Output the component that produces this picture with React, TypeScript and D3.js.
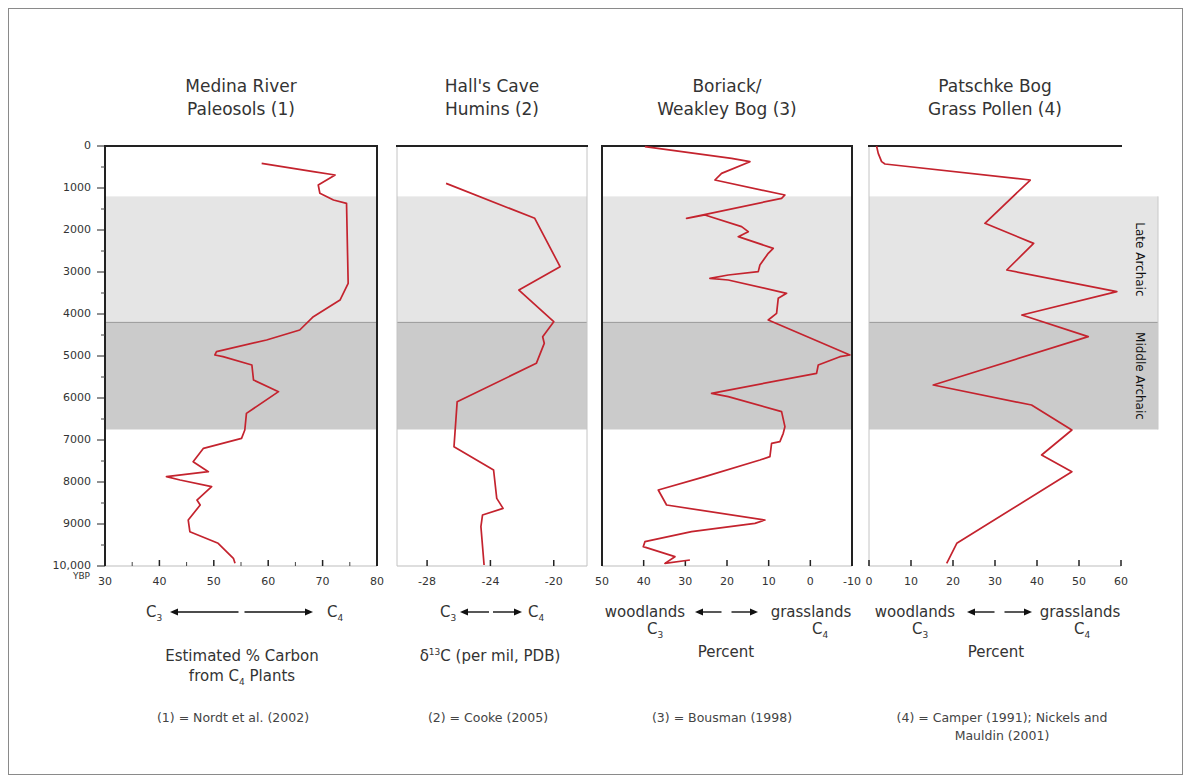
import React from 'react'
import * as d3 from 'd3'

// age axis (years BP)
const ageTicks = [0, 1000, 2000, 3000, 4000, 5000, 6000, 7000, 8000, 9000, 10000]
const ageLabels = ['0', '1000', '2000', '3000', '4000', '5000', '6000', '7000', '8000', '9000', '10,000']

// shaded periods
const periodNames = ['Late Archaic', 'Middle Archaic']
const periodStart = [1200, 4200]
const periodEnd = [4200, 6750]

// (1) Medina River paleosols, % C4
const medinaAge = [412, 612, 690, 929, 1127, 1286, 1365, 3270, 3667, 4064, 4381, 4619, 4897, 4976, 5016, 5214, 5571, 5849, 6365, 6762, 6960, 7198, 7516, 7754, 7873, 7952, 8111, 8429, 8548, 8905, 9183, 9460, 9817, 9936]
const medinaPct = [58.8, 68.3, 72.3, 69.2, 69.5, 72.0, 74.4, 74.7, 73.2, 68.3, 65.8, 59.7, 50.5, 50.2, 51.7, 57.0, 57.3, 61.9, 56.0, 55.7, 55.1, 48.1, 46.2, 49.0, 41.3, 43.8, 49.6, 46.9, 47.5, 45.3, 45.6, 50.8, 53.6, 53.9]

// (2) Hall's Cave humins, d13C
const hallsAge = [889, 1722, 2873, 3429, 4183, 4540, 4698, 5175, 6087, 7159, 7714, 8389, 8627, 8786, 9064, 9976]
const hallsD13C = [-26.8, -21.2, -19.6, -22.2, -20.0, -20.7, -20.6, -21.1, -26.1, -26.3, -23.8, -23.6, -23.2, -24.5, -24.6, -24.4]

// (3) Boriack / Weakley Bog, percent
const boriackAge = [16, 294, 373, 651, 810, 1167, 1246, 1722, 1643, 1921, 2040, 2159, 2437, 2556, 2833, 2992, 3071, 3151, 3190, 3508, 3627, 3984, 4143, 4976, 5016, 5214, 5413, 5889, 5968, 6325, 6683, 6841, 7040, 7080, 7397, 7476, 7873, 8191, 8548, 8905, 8984, 9183, 9421, 9540, 9778, 9937, 9857]
const boriackPct = [39.7, 18.9, 14.5, 21.3, 22.9, 6.1, 6.9, 29.7, 25.3, 16.5, 14.9, 17.3, 8.9, 10.1, 12.1, 12.5, 19.7, 24.1, 19.7, 5.7, 7.7, 8.1, 10.1, -9.5, -7.1, -1.9, -1.5, 23.7, 19.7, 6.9, 6.1, 6.5, 7.3, 9.3, 9.7, 12.1, 25.3, 36.5, 34.5, 10.9, 13.3, 28.5, 39.7, 40.1, 32.5, 34.9, 28.9]

// (4) Patschke Bog grass pollen, percent
const patschkeAge = [0, 175, 373, 428, 810, 1841, 2318, 2952, 3468, 4024, 4540, 5691, 6167, 6762, 7357, 7754, 9460, 9937]
const patschkePct = [1.8, 2.2, 3.0, 3.8, 38.4, 27.6, 39.2, 32.8, 59.0, 36.4, 52.2, 15.3, 38.7, 48.3, 41.1, 48.3, 20.9, 18.5]

const medinaTicks = [30, 40, 50, 60, 70, 80]
const hallsTicks = [-28, -24, -20]
const boriackTicks = [50, 40, 30, 20, 10, 0, -10]
const patschkeTicks = [0, 10, 20, 30, 40, 50, 60]

const FONT = 'DejaVu Sans, Verdana, sans-serif'
const INK = '#333'
const RED = '#c4232e'

const y = d3.scaleLinear().domain([0, 10000]).range([146, 566])

type Panel = {
  x0: number
  x1: number
  domain: [number, number]
  ticks: number[]
  minor: number[]
  title: string[]
  ages: number[]
  vals: number[]
  leftDark: boolean
  right: string | null
}

const panels: Panel[] = [
  { x0: 105, x1: 377, domain: [30, 80], ticks: medinaTicks, minor: [35, 45, 55, 65, 75], title: ['Medina River', 'Paleosols (1)'], ages: medinaAge, vals: medinaPct, leftDark: true, right: '#222' },
  { x0: 397, x1: 587, domain: [-29.9, -17.9], ticks: hallsTicks, minor: [], title: ["Hall's Cave", 'Humins (2)'], ages: hallsAge, vals: hallsD13C, leftDark: false, right: '#c4c4c4' },
  { x0: 602, x1: 852, domain: [50, -10], ticks: boriackTicks, minor: [], title: ['Boriack/', 'Weakley Bog (3)'], ages: boriackAge, vals: boriackPct, leftDark: true, right: '#222' },
  { x0: 869, x1: 1121, domain: [0, 60], ticks: patschkeTicks, minor: [], title: ['Patschke Bog', 'Grass Pollen (4)'], ages: patschkeAge, vals: patschkePct, leftDark: false, right: null },
]

const Sub = ({ t }: { t: string }) => (
  <tspan fontSize={9} dy={4}>{t}</tspan>
)

const Arrows = ({ cx, half, gap, yy }: { cx: number; half: number; gap: number; yy: number }) => (
  <g stroke="#111" strokeWidth={1.4} fill="#111">
    <line x1={cx - gap} x2={cx - half + 6} y1={yy} y2={yy} />
    <path d={`M${cx - half},${yy} l8,-3.5 l0,7 z`} stroke="none" />
    <line x1={cx + gap} x2={cx + half - 6} y1={yy} y2={yy} />
    <path d={`M${cx + half},${yy} l-8,-3.5 l0,7 z`} stroke="none" />
  </g>
)

export default function App() {
  const bandRight = 1158
  return (
    <svg width={1191} height={782} style={{ position: 'absolute', left: 0, top: 0, background: '#fff' }} fontFamily={FONT}>
      <rect x={8.5} y={8.5} width={1174} height={766} fill="#fff" stroke="#8a8a8a" strokeWidth={1} />

      {/* shaded periods */}
      {panels.map((p, i) => (
        <g key={'b' + i}>
          {periodStart.map((s, j) => (
            <rect key={j} x={p.x0} width={(i === 3 ? bandRight : p.x1) - p.x0} y={y(s)} height={y(periodEnd[j]) - y(s)} fill={j === 0 ? '#e5e5e5' : '#cbcbcb'} />
          ))}
          <line x1={p.x0} x2={i === 3 ? bandRight : p.x1} y1={y(periodStart[1])} y2={y(periodStart[1])} stroke="#9a9a9a" strokeWidth={1} />
        </g>
      ))}
      <line x1={bandRight} x2={bandRight} y1={y(periodStart[0])} y2={y(periodEnd[1])} stroke="#c8c8c8" />
      {periodNames.map((n, j) => (
        <text key={n} transform={`translate(1139,${(y(periodStart[j]) + y(periodEnd[j])) / 2}) rotate(90)`} textAnchor="middle" dominantBaseline="middle" fontSize={12} fill="#111">{n}</text>
      ))}

      {panels.map((p, i) => {
        const x = d3.scaleLinear().domain(p.domain).range([p.x0, p.x1])
        const line = d3.line<number>().x((d) => x(d)).y((_, k) => y(p.ages[k]))
        return (
          <g key={'p' + i}>
            {/* frame */}
            <line x1={p.x0} x2={p.x1} y1={y(10000)} y2={y(10000)} stroke="#bdbdbd" />
            <line x1={p.x0} x2={p.x0} y1={y(0)} y2={y(10000)} stroke={p.leftDark ? '#222' : '#c4c4c4'} strokeWidth={p.leftDark ? 2 : 1} />
            {p.right && (
              <line x1={p.x1} x2={p.x1} y1={y(0)} y2={y(10000)} stroke={p.right} strokeWidth={p.right === '#222' ? 2 : 1} />
            )}
            <line x1={p.x0 - 1} x2={p.x1 + 1} y1={y(0)} y2={y(0)} stroke="#222" strokeWidth={2} />
            {/* ticks */}
            {p.ticks.map((t) => (
              <g key={t}>
                <line x1={x(t)} x2={x(t)} y1={y(10000)} y2={y(10000) - 6} stroke="#222" strokeWidth={1.5} />
                <text x={x(t)} y={y(10000) + 19} textAnchor="middle" fontSize={11} fill={INK}>{t}</text>
              </g>
            ))}
            {p.minor.map((t) => (
              <line key={'m' + t} x1={x(t)} x2={x(t)} y1={y(10000)} y2={y(10000) - 4} stroke="#444" />
            ))}
            {/* title */}
            {p.title.map((s, k) => (
              <text key={k} x={(p.x0 + p.x1) / 2} y={92 + k * 23} textAnchor="middle" fontSize={17} fill={INK}>{s}</text>
            ))}
            {/* series */}
            <path d={line(p.vals) || ''} fill="none" stroke={RED} strokeWidth={1.7} strokeLinejoin="round" />
          </g>
        )
      })}

      {/* age axis */}
      <g>
        {ageTicks.map((t, k) => (
          <g key={t}>
            <line x1={97} x2={105} y1={y(t)} y2={y(t)} stroke="#222" strokeWidth={1} />
            <text x={91} y={y(t)} textAnchor="end" dominantBaseline="middle" fontSize={11} fill={INK}>{ageLabels[k]}</text>
          </g>
        ))}
        {ageTicks.slice(0, -1).map((t) => (
          <line key={'h' + t} x1={101} x2={105} y1={y(t + 500)} y2={y(t + 500)} stroke="#444" />
        ))}
        <text x={90} y={y(10000) + 13} textAnchor="end" fontSize={9} fill={INK}>YBP</text>
      </g>

      {/* panel 1 captions */}
      <g fontSize={15} fill={INK} textAnchor="middle">
        <text x={154} y={617}>C<Sub t="3" /></text>
        <Arrows cx={241.5} half={71.5} gap={3} yy={612} />
        <text x={335} y={617}>C<Sub t="4" /></text>
        <text x={242} y={661}>Estimated % Carbon</text>
        <text x={242} y={681}>from C<Sub t="4" /><tspan dy={-4}> Plants</tspan></text>
        <text x={233} y={722} fontSize={12.5} fill="#444">(1) = Nordt et al. (2002)</text>
      </g>

      {/* panel 2 captions */}
      <g fontSize={15} fill={INK} textAnchor="middle">
        <text x={448} y={617}>C<Sub t="3" /></text>
        <Arrows cx={491} half={31} gap={2} yy={612} />
        <text x={536} y={617}>C<Sub t="4" /></text>
        <text x={490} y={661}>δ<tspan fontSize={9} dy={-6}>13</tspan><tspan dy={6}>C (per mil, PDB)</tspan></text>
        <text x={488} y={722} fontSize={12.5} fill="#444">(2) = Cooke (2005)</text>
      </g>

      {/* panel 3 captions */}
      <g fontSize={15} fill={INK} textAnchor="middle">
        <text x={645} y={617}>woodlands</text>
        <text x={655} y={634}>C<Sub t="3" /></text>
        <Arrows cx={726.5} half={31.5} gap={5} yy={612} />
        <text x={811} y={617}>grasslands</text>
        <text x={820} y={634}>C<Sub t="4" /></text>
        <text x={726} y={657}>Percent</text>
        <text x={722} y={722} fontSize={12.5} fill="#444">(3) = Bousman (1998)</text>
      </g>

      {/* panel 4 captions */}
      <g fontSize={15} fill={INK} textAnchor="middle">
        <text x={915} y={617}>woodlands</text>
        <text x={920} y={634}>C<Sub t="3" /></text>
        <Arrows cx={999.5} half={32.5} gap={5} yy={612} />
        <text x={1080} y={617}>grasslands</text>
        <text x={1082} y={634}>C<Sub t="4" /></text>
        <text x={996} y={657}>Percent</text>
        <text x={1002} y={722} fontSize={12.5} fill="#444">(4) = Camper (1991); Nickels and</text>
        <text x={1002} y={740} fontSize={12.5} fill="#444">Mauldin (2001)</text>
      </g>
    </svg>
  )
}
